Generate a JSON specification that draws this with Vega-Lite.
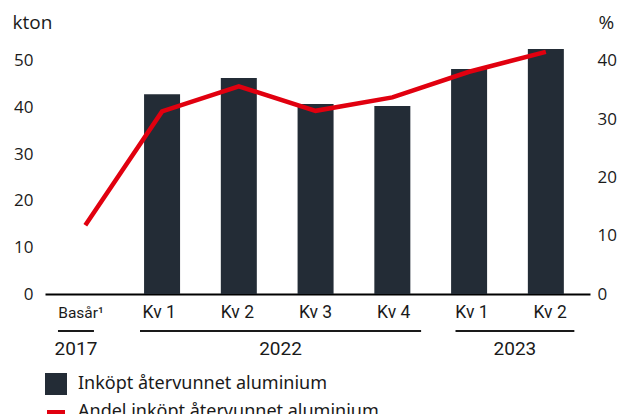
{
  "$schema": "https://vega.github.io/schema/vega-lite/v6.json",
  "padding": {"left": 12, "top": 13, "right": 0, "bottom": 0},
  "config": {
    "view": {"stroke": null},
    "font": "Open Sans",
    "axis": {"grid": false}
  },
  "datasets": {
    "main": [
      {"i": 0, "label": "Basår¹", "kton": null, "pct": 11.8},
      {"i": 1, "label": "Kv 1", "kton": 42.8, "pct": 31.3},
      {"i": 2, "label": "Kv 2", "kton": 46.3, "pct": 35.6},
      {"i": 3, "label": "Kv 3", "kton": 40.7, "pct": 31.4},
      {"i": 4, "label": "Kv 4", "kton": 40.3, "pct": 33.7},
      {"i": 5, "label": "Kv 1", "kton": 48.2, "pct": 38.1},
      {"i": 6, "label": "Kv 2", "kton": 52.5, "pct": 41.5}
    ],
    "groups": [
      {"year": "2017", "from": -0.294, "to": 0.166},
      {"year": "2022", "from": 0.755, "to": 4.35},
      {"year": "2023", "from": 4.79, "to": 6.31}
    ]
  },
  "spacing": 1,
  "resolve": {"scale": {"color": "shared"}, "legend": {"color": "shared"}},
  "vconcat": [
    {
      "width": 545,
      "height": 252,
      "data": {"name": "main"},
      "encoding": {
        "x": {
          "field": "i",
          "type": "quantitative",
          "scale": {"domain": [-0.46, 6.51], "nice": false, "zero": false},
          "axis": {"labels": false, "ticks": false, "grid": false, "domain": true, "domainColor": "#000000", "domainWidth": 2, "title": null}
        }
      },
      "layer": [
        {
          "mark": {"type": "bar", "size": 36},
          "encoding": {
            "y": {
              "field": "kton",
              "type": "quantitative",
              "scale": {"domain": [0, 54], "nice": false},
              "axis": {
                "orient": "left",
                "values": [0, 10, 20, 30, 40, 50],
                "ticks": false,
                "domain": false,
                "labelPadding": 12,
                "labelFontSize": 17,
                "labelColor": "#1a1a1a",
                "labelFont": "Open Sans",
                "title": "kton",
                "titleAngle": 0,
                "titleAlign": "left",
                "titleBaseline": "middle",
                "titleX": -33,
                "titleY": -20,
                "titleFontSize": 19,
                "titleFontWeight": "normal",
                "titleColor": "#1a1a1a",
                "titleFont": "Open Sans"
              }
            },
            "color": {
              "datum": "Inköpt återvunnet aluminium",
              "type": "nominal",
              "scale": {
                "domain": ["Inköpt återvunnet aluminium", "Andel inköpt återvunnet aluminium"],
                "range": ["#232c36", "#e1000f"]
              },
              "legend": {
                "orient": "none",
                "legendX": 0,
                "legendY": 331,
                "direction": "vertical",
                "title": null,
                "labelFont": "Noto Sans",
                "labelFontSize": 18,
                "labelColor": "#1a1a1a",
                "labelLimit": 500,
                "symbolSize": 324,
                "labelOffset": 11,
                "rowPadding": -4,
                "encode": {
                  "symbols": {
                    "update": {
                      "shape": {"signal": "datum.value === 'Inköpt återvunnet aluminium' ? 'square' : 'stroke'"},
                      "fill": {"signal": "datum.value === 'Inköpt återvunnet aluminium' ? '#232c36' : 'transparent'"},
                      "stroke": {"signal": "datum.value === 'Inköpt återvunnet aluminium' ? 'transparent' : '#e1000f'"},
                      "strokeWidth": {"value": 4},
                      "opacity": {"value": 1}
                    }
                  }
                }
              }
            }
          }
        },
        {
          "mark": {"type": "line", "strokeWidth": 4.5, "strokeCap": "butt"},
          "encoding": {
            "y": {
              "field": "pct",
              "type": "quantitative",
              "scale": {"domain": [0, 43.2], "nice": false},
              "axis": {
                "orient": "right",
                "values": [0, 10, 20, 30, 40],
                "ticks": false,
                "domain": false,
                "labelPadding": 7,
                "labelFontSize": 17,
                "labelColor": "#1a1a1a",
                "labelFont": "Open Sans",
                "title": "%",
                "titleAngle": 0,
                "titleAlign": "left",
                "titleBaseline": "middle",
                "titleX": 8,
                "titleY": -20,
                "titleFontSize": 19,
                "titleFontWeight": "normal",
                "titleColor": "#1a1a1a",
                "titleFont": "Open Sans"
              }
            },
            "color": {"datum": "Andel inköpt återvunnet aluminium", "type": "nominal"}
          }
        }
      ],
      "resolve": {"scale": {"y": "independent"}}
    },
    {
      "width": 545,
      "height": 54,
      "layer": [
        {
          "data": {"name": "main"},
          "mark": {"type": "text", "font": "Roboto", "baseline": "middle", "color": "#1a1a1a"},
          "encoding": {
            "x": {"field": "i", "type": "quantitative", "scale": {"domain": [-0.46, 6.51], "nice": false, "zero": false}, "axis": null},
            "y": {"datum": 2.5, "type": "quantitative", "scale": {"domain": [0, 3], "nice": false}, "axis": null},
            "text": {"field": "label"},
            "size": {"condition": {"test": "datum.i === 0", "value": 15.5}, "value": 17.5}
          }
        },
        {
          "data": {"name": "groups"},
          "mark": {"type": "rule", "strokeWidth": 2, "color": "#1a1a1a"},
          "encoding": {
            "x": {"field": "from", "type": "quantitative"},
            "x2": {"field": "to"},
            "y": {"datum": 1.5, "type": "quantitative"}
          }
        },
        {
          "data": {"name": "groups"},
          "transform": [{"calculate": "(datum.from + datum.to) / 2", "as": "mid"}],
          "mark": {"type": "text", "font": "Roboto", "fontSize": 19, "baseline": "middle", "color": "#1a1a1a"},
          "encoding": {
            "x": {"field": "mid", "type": "quantitative"},
            "y": {"datum": 0.5, "type": "quantitative"},
            "text": {"field": "year"}
          }
        }
      ]
    }
  ]
}
